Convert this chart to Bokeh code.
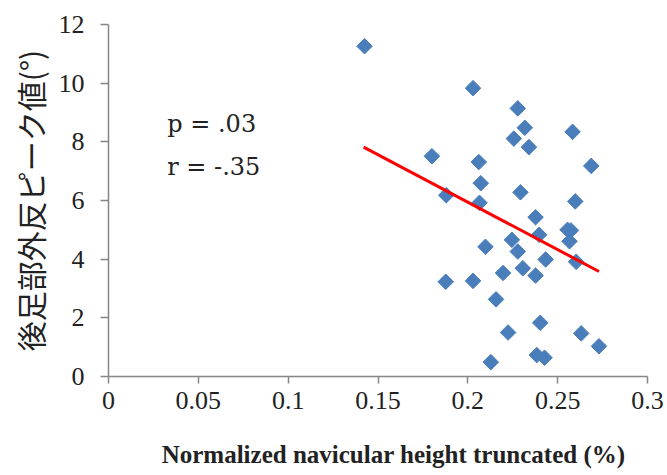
import math
from bokeh.plotting import figure
from bokeh.models import Range1d, FixedTicker, Label
from bokeh.embed import file_html
from bokeh.resources import INLINE

# data
nav_height = [0.1425, 0.2029, 0.2278, 0.2317, 0.2583, 0.2256, 0.2340, 0.1800, 0.2061, 0.2687,
              0.2072, 0.1880, 0.2293, 0.2598, 0.2065, 0.2377, 0.2397, 0.2555, 0.2574, 0.2566,
              0.2245, 0.2098, 0.2278, 0.2433, 0.2603, 0.2306, 0.2196, 0.2377, 0.1877, 0.2029,
              0.2157, 0.2403, 0.2224, 0.2631, 0.2730, 0.2384, 0.2427, 0.2128]
eversion_peak = [11.26, 9.83, 9.14, 8.48, 8.34, 8.11, 7.82, 7.51, 7.31, 7.18,
                 6.59, 6.18, 6.28, 5.97, 5.92, 5.43, 4.83, 5.00, 4.98, 4.61,
                 4.66, 4.42, 4.26, 3.99, 3.91, 3.69, 3.53, 3.44, 3.23, 3.26,
                 2.63, 1.83, 1.50, 1.47, 1.03, 0.73, 0.64, 0.49]
trend_x = [0.142, 0.273]
trend_y = [7.82, 3.58]

x_ticks = [0, 0.05, 0.1, 0.15, 0.2, 0.25, 0.3]
x_tick_labels = ["0", "0.05", "0.1", "0.15", "0.2", "0.25", "0.3"]
y_ticks = [0, 2, 4, 6, 8, 10, 12]

stats_text = ["p = .03", "r = -.35"]
x_title = "Normalized navicular height truncated (%)"
y_title = "後足部外反ピーク値(°)"

p = figure(width=667, height=475, output_backend="svg", toolbar_location=None,
           x_range=Range1d(0, 0.3), y_range=Range1d(0, 12),
           min_border_left=108, min_border_right=20, min_border_top=24, min_border_bottom=99)
p.outline_line_color = None
p.grid.visible = False
p.background_fill_color = "white"
p.border_fill_color = "white"

p.scatter(nav_height, eversion_peak, marker="square", size=11, angle=math.pi / 4,
          fill_color="#4a7ebb", line_color="#4a7ebb")
p.line(trend_x, trend_y, line_color="#ff0000", line_width=3)

tick_font = "Liberation Serif"
for ax in (p.xaxis[0], p.yaxis[0]):
    ax.axis_line_color = "#868686"
    ax.axis_line_width = 1.5
    ax.major_tick_line_color = "#868686"
    ax.major_tick_line_width = 1.5
    ax.major_tick_in = 0
    ax.minor_tick_line_color = None
    ax.major_label_text_font = tick_font
    ax.major_label_text_font_size = "26px"
    ax.major_label_text_color = "#222222"

p.xaxis.ticker = FixedTicker(ticks=x_ticks)
p.xaxis.major_label_overrides = {t: l for t, l in zip(x_ticks, x_tick_labels)}
p.xaxis.major_tick_out = 7
p.xaxis.major_label_standoff = 8
# title sits a little right of the frame centre in the original, so it is padded with no-break spaces
p.xaxis.axis_label = "\u00a0" * 5 + x_title
p.xaxis.axis_label_text_font = "Liberation Serif"
p.xaxis.axis_label_text_font_style = "bold"
p.xaxis.axis_label_text_font_size = "25px"
p.xaxis.axis_label_text_color = "#222222"
p.xaxis.axis_label_standoff = 29

p.yaxis.ticker = FixedTicker(ticks=y_ticks)
p.yaxis.major_tick_out = 8
p.yaxis.major_label_standoff = 16
p.yaxis.axis_label = y_title
p.yaxis.axis_label_text_font = "Noto Sans CJK JP"
p.yaxis.axis_label_text_font_style = "normal"
p.yaxis.axis_label_text_font_size = "30px"
p.yaxis.axis_label_text_color = "#222222"
p.yaxis.axis_label_standoff = 4

for i, t in enumerate(stats_text):
    p.add_layout(Label(x=0.0327, y=8.6 - 1.47 * i, text=t, text_font="DejaVu Serif",
                       text_font_size="24px", text_color="#222222",
                       text_baseline="alphabetic"))

open("out.html", "w").write(file_html(p, INLINE))
